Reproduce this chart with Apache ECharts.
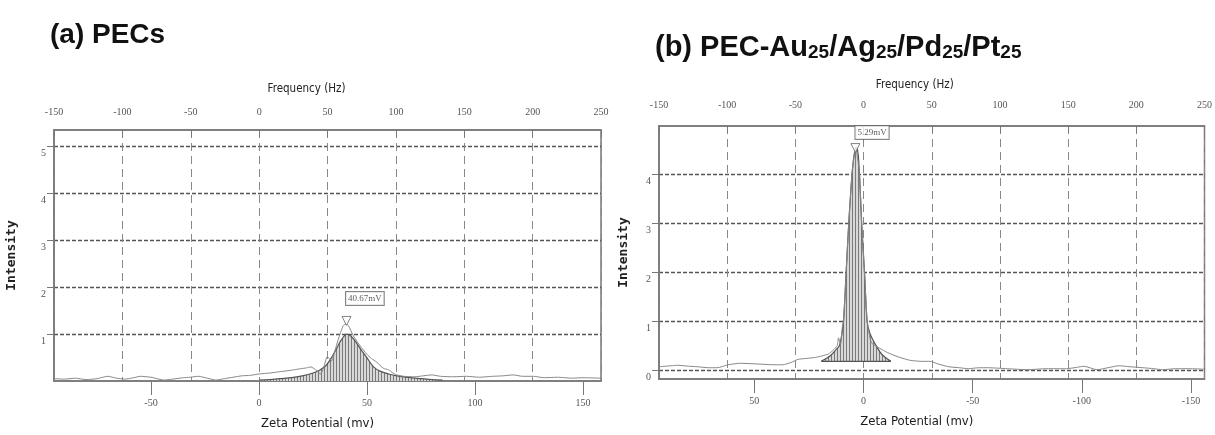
<!DOCTYPE html>
<html>
<head>
<meta charset="utf-8">
<script src="https://cdn.jsdelivr.net/npm/echarts@6/dist/echarts.min.js"></script>
<style>
  html, body { margin: 0; padding: 0; background: #fff; }
  #chart { width: 1215px; height: 435px; }
</style>
</head>
<body>
<div id="chart"></div>
<script>
// tick values shown on the zeta / intensity axes
const zetaTicksA = [-50, 0, 50, 100, 150];
const zetaTicksB = [50, 0, -50, -100, -150];
const intensityTicksA = [1, 2, 3, 4, 5];
const intensityTicksB = [0, 1, 2, 3, 4];

// (a) PECs - measured curve (zeta mV, intensity)
const rawZetaA = [-94.9, -90, -85, -80, -75, -70, -66, -62, -58, -55, -50, -44, -40, -35, -32, -28, -24, -20, -16, -12, -8, -4,
  0, 5, 10, 15, 19, 22, 24, 26.7, 28.5, 30, 31.6, 33.6, 35, 36.7, 39, 40.5, 41.4, 43.7, 46.8, 49.9, 52, 54.5, 57.6, 59.9,
  62, 63.7, 67, 72, 76, 80, 84, 90, 96, 102, 108, 113, 117.6, 122, 127, 132, 138, 145, 150, 158.3];
const rawA = [0.05, 0.04, 0.06, 0.03, 0.05, 0.10, 0.06, 0.04, 0.07, 0.10, 0.08, 0.02, 0.04, 0.07, 0.08, 0.10, 0.06, 0.02, 0.05, 0.08, 0.11, 0.12,
  0.15, 0.17, 0.20, 0.23, 0.26, 0.28, 0.30, 0.22, 0.15, 0.30, 0.52, 0.43, 0.62, 0.89, 1.18, 1.22, 1.18, 0.96, 0.75, 0.57, 0.48, 0.40, 0.27, 0.24,
  0.17, 0.13, 0.10, 0.09, 0.11, 0.13, 0.10, 0.09, 0.10, 0.08, 0.10, 0.11, 0.13, 0.10, 0.10, 0.07, 0.08, 0.06, 0.07, 0.06];
// (a) fitted peak
const fitZetaA = [0, 5, 10, 15, 20, 25, 28, 31, 33.6, 36, 38, 40.6, 42.5, 45, 47.5, 49.9, 53, 56, 60, 64, 70, 75, 80, 85];
const fitA = [0.02, 0.03, 0.05, 0.07, 0.11, 0.17, 0.23, 0.33, 0.50, 0.70, 0.87, 1.00, 0.96, 0.82, 0.65, 0.50, 0.30, 0.21, 0.15, 0.11, 0.07, 0.05, 0.03, 0.02];

// (b) PEC-Au25/Ag25/Pd25/Pt25 - measured curve
const rawZetaB = [93.6, 88, 85, 80, 76, 71, 67, 62, 56.6, 50, 46, 40, 37, 33, 30, 26, 22, 19, 16, 14, 12, 11.4, 10.5, 9.6,
  9.1, 7.9, 6.7, 5.2, 3.6, 1.8, 0.8, -0.5, -1.7, -2.8, -3.8, -7.3, -11, -16, -21.5, -27, -30.5, -34, -39, -44, -48,
  -53, -57, -62, -66, -75, -84, -93, -98, -101, -107, -112, -117, -122, -128, -133, -137, -143, -149, -156];
const rawB = [0.07, 0.09, 0.10, 0.08, 0.07, 0.05, 0.05, 0.11, 0.14, 0.13, 0.12, 0.11, 0.11, 0.16, 0.22, 0.24, 0.26, 0.29, 0.33, 0.40, 0.50, 0.66, 0.52, 0.90,
  1.00, 2.00, 3.00, 4.00, 4.55, 4.00, 3.00, 2.00, 1.00, 0.70, 0.55, 0.45, 0.36, 0.27, 0.20, 0.18, 0.18, 0.13, 0.07, 0.05, 0.03,
  0.05, 0.05, 0.04, 0.03, 0.01, 0.03, 0.03, 0.06, 0.08, 0.01, 0.05, 0.09, 0.07, 0.05, 0.03, 0.01, 0.03, 0.03, 0.02];
// (b) fitted peak
const fitZetaB = [19.3, 15, 12.5, 11, 10, 9.1, 7.9, 6.7, 5.2, 4.2, 3.2, 2.4, 1.8, 0.8, -0.5, -1.7, -3, -5.8, -8.5, -12.6];
const fitB = [0.18, 0.30, 0.42, 0.50, 0.70, 1.00, 2.00, 3.00, 4.00, 4.40, 4.55, 4.40, 4.00, 3.00, 2.00, 1.00, 0.75, 0.50, 0.32, 0.18];

// peak markers: [zeta, intensity] and their labels
const peakA = [40.5, 1.28];
const peakB = [3.65, 4.53];
const peakLabels = ['40.67mV', '5.29mV'];

const pairs = (xs, ys) => xs.map((x, i) => [x, ys[i]]);

// vertical hatching used under the fitted peaks
function hatch () {
  const c = document.createElement('canvas');
  c.width = 3;
  c.height = 4;
  const ctx = c.getContext('2d');
  ctx.fillStyle = '#d8d8d8';
  ctx.fillRect(0, 0, 3, 4);
  ctx.fillStyle = '#7a7a7a';
  ctx.fillRect(0, 0, 1, 4);
  return c;
}
const hatchFill = { image: hatch(), repeat: 'repeat' };

const tickFont = { fontFamily: 'Liberation Serif', fontSize: 10, color: '#555' };
const frameLine = { show: true, onZero: false, lineStyle: { color: '#777', width: 1.5 } };
const nameFont = 'DejaVu Sans Condensed, DejaVu Sans';

function freqAxis (grid, margin, namePad) {
  return {
    type: 'value', gridIndex: grid, position: 'top',
    min: -150, max: 250, interval: 50,
    name: 'Frequency (Hz)', nameLocation: 'middle', nameGap: 35,
    nameTextStyle: { fontFamily: nameFont, fontSize: 11.5, color: '#222', padding: [0, namePad, 0, 0] },
    axisLine: frameLine,
    axisTick: { inside: true, length: 7, lineStyle: { color: '#777' } },
    axisLabel: Object.assign({ margin: margin }, tickFont),
    splitLine: { show: true, lineStyle: { type: [8, 5], color: '#888', width: 1 } }
  };
}

function zetaAxis (grid, min, max, ticks, inverse, namePad) {
  return {
    type: 'value', gridIndex: grid, position: 'bottom',
    min: min, max: max, inverse: inverse,
    name: 'Zeta Potential (mv)', nameLocation: 'middle', nameGap: 36,
    nameTextStyle: { fontFamily: nameFont, fontSize: 13, color: '#1a1a1a', padding: [0, namePad, 0, 0] },
    axisLine: frameLine,
    axisTick: { length: 14, customValues: ticks, lineStyle: { color: '#777' } },
    axisLabel: Object.assign({ margin: 17, customValues: ticks }, tickFont),
    splitLine: { show: false }
  };
}

function intensityAxis (grid, min, max, ticks, gap) {
  return {
    type: 'value', gridIndex: grid,
    min: min, max: max,
    name: 'Intensity', nameLocation: 'middle', nameRotate: 90, nameGap: gap,
    nameTextStyle: { fontFamily: 'DejaVu Sans Mono', fontWeight: 'bold', fontSize: 13, color: '#222' },
    axisLine: frameLine,
    axisTick: { length: 7, customValues: ticks, lineStyle: { color: '#777' } },
    axisLabel: Object.assign({ margin: 8, customValues: ticks, verticalAlign: 'top', padding: [2, 0, 0, 0] }, tickFont),
    splitLine: { show: true, lineStyle: { type: [4, 2], color: '#555', width: 1.3 } }
  };
}

function peakSeries (xIdx, yIdx, point, text, pos) {
  return {
    type: 'scatter', xAxisIndex: xIdx, yAxisIndex: yIdx, z: 5,
    data: [point],
    symbol: 'triangle', symbolRotate: 180, symbolSize: 9,
    itemStyle: { color: '#fff', borderColor: '#666', borderWidth: 1 },
    label: {
      show: true, formatter: text, position: pos,
      fontFamily: 'Liberation Serif', fontSize: 9, color: '#333',
      backgroundColor: '#fff', borderColor: '#666', borderWidth: 1, padding: [2, 2]
    }
  };
}

const rich = {
  n: { fontFamily: 'Liberation Sans', fontWeight: 'bold', fontSize: 29, color: '#111', verticalAlign: 'bottom', lineHeight: 33 },
  s: { fontFamily: 'Liberation Sans', fontWeight: 'bold', fontSize: 19, color: '#111', verticalAlign: 'bottom', lineHeight: 14 }
};

const option = {
  animation: false,
  backgroundColor: '#fff',
  title: [
    {
      text: '(a) PECs', left: 50, top: 21, padding: 0,
      textStyle: { fontFamily: 'Liberation Sans', fontWeight: 'bold', fontSize: 28, color: '#111' }
    },
    {
      text: '{n|(b) PEC-Au}{s|25}{n|/Ag}{s|25}{n|/Pd}{s|25}{n|/Pt}{s|25}', left: 655, top: 29, padding: 0,
      textStyle: { rich: rich }
    }
  ],
  grid: [
    { left: 54, right: 614, top: 130, bottom: 54, show: true, borderColor: '#777', borderWidth: 1.5 },
    { left: 659, right: 9, top: 126, bottom: 56, show: true, borderColor: '#777', borderWidth: 1.5 }
  ],
  xAxis: [
    freqAxis(0, 13, 42),
    zetaAxis(0, -94.9, 158.3, zetaTicksA, false, 20),
    freqAxis(1, 16, 34),
    zetaAxis(1, -156.2, 93.6, zetaTicksB, true, 30)
  ],
  yAxis: [
    intensityAxis(0, 0, 5.35, intensityTicksA, 36),
    intensityAxis(1, -0.18, 4.98, intensityTicksB, 29)
  ],
  series: [
    {
      name: 'fitA', type: 'line', xAxisIndex: 1, yAxisIndex: 0, z: 2,
      data: pairs(fitZetaA, fitA), showSymbol: false, smooth: 0.3,
      lineStyle: { color: '#555', width: 1.2 },
      areaStyle: { color: hatchFill, opacity: 1 }
    },
    {
      name: 'rawA', type: 'line', xAxisIndex: 1, yAxisIndex: 0, z: 3,
      data: pairs(rawZetaA, rawA), showSymbol: false, smooth: 0.2,
      lineStyle: { color: '#888', width: 1 }
    },
    peakSeries(1, 0, peakA, peakLabels[0], [4.5, -24]),
    {
      name: 'fitB', type: 'line', xAxisIndex: 3, yAxisIndex: 1, z: 2,
      data: pairs(fitZetaB, fitB), showSymbol: false, smooth: 0.3,
      lineStyle: { color: '#555', width: 1.2 },
      areaStyle: { color: hatchFill, opacity: 1, origin: fitB[0] }
    },
    {
      name: 'fitBaseB', type: 'line', xAxisIndex: 3, yAxisIndex: 1, z: 2,
      data: [[fitZetaB[0], fitB[0]], [fitZetaB[fitZetaB.length - 1], fitB[fitB.length - 1]]],
      showSymbol: false, lineStyle: { color: '#555', width: 1.2 }
    },
    {
      name: 'rawB', type: 'line', xAxisIndex: 3, yAxisIndex: 1, z: 3,
      data: pairs(rawZetaB, rawB), showSymbol: false, smooth: 0.2,
      lineStyle: { color: '#888', width: 1 }
    },
    peakSeries(3, 1, peakB, peakLabels[1], [5, -17])
  ]
};

const chart = echarts.init(document.getElementById('chart'));
chart.setOption(option);
</script>
</body>
</html>
